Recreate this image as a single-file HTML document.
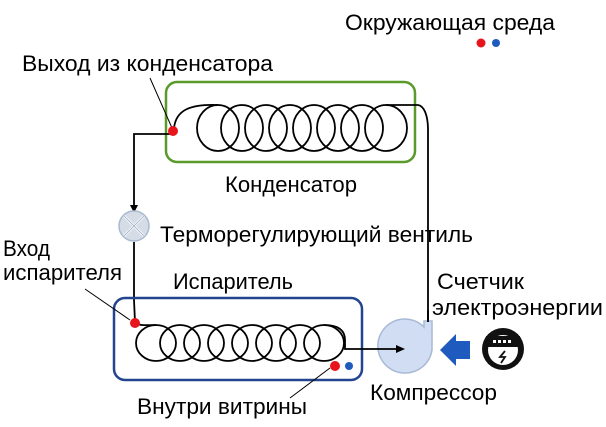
<!DOCTYPE html>
<html><head><meta charset="utf-8"><style>
html,body{margin:0;padding:0;background:#fff;}
svg{display:block;}
text{font-family:"Liberation Sans",sans-serif;fill:#000;}
</style></head><body>
<svg width="606" height="427" viewBox="0 0 606 427" xmlns="http://www.w3.org/2000/svg">
<g font-size="22.5">
<text x="345" y="30" textLength="210" lengthAdjust="spacingAndGlyphs">Окружающая среда</text>
<text x="22" y="71" textLength="251" lengthAdjust="spacingAndGlyphs">Выход из конденсатора</text>
<text x="225" y="192" textLength="132" lengthAdjust="spacingAndGlyphs">Конденсатор</text>
<text x="160" y="242" textLength="313" lengthAdjust="spacingAndGlyphs">Терморегулирующий вентиль</text>
<text x="3" y="256" textLength="47" lengthAdjust="spacingAndGlyphs">Вход</text>
<text x="3" y="280" textLength="119" lengthAdjust="spacingAndGlyphs">испарителя</text>
<text x="173" y="289" textLength="120" lengthAdjust="spacingAndGlyphs">Испаритель</text>
<text x="437" y="289" textLength="87" lengthAdjust="spacingAndGlyphs">Счетчик</text>
<text x="432" y="315" textLength="171" lengthAdjust="spacingAndGlyphs">электроэнергии</text>
<text x="370" y="400" textLength="127" lengthAdjust="spacingAndGlyphs">Компрессор</text>
<text x="137" y="414" textLength="170" lengthAdjust="spacingAndGlyphs">Внутри витрины</text>
</g>
<circle cx="481" cy="43" r="4.5" fill="#e8141b"/>
<circle cx="496" cy="43" r="4" fill="#1f5bbf"/>

<!-- condenser -->
<rect x="166" y="82" width="249" height="80" rx="11" fill="none" stroke="#5a9a2a" stroke-width="2.5"/>
<g fill="none" stroke="#000" stroke-width="1.8">
<ellipse cx="218" cy="128" rx="21" ry="23"/>
<ellipse cx="242" cy="128" rx="21" ry="23"/>
<ellipse cx="266" cy="128" rx="21" ry="23"/>
<ellipse cx="290" cy="128" rx="21" ry="23"/>
<ellipse cx="314" cy="128" rx="21" ry="23"/>
<ellipse cx="338" cy="128" rx="21" ry="23"/>
<ellipse cx="362" cy="128" rx="21" ry="23"/>
<ellipse cx="386" cy="128" rx="21" ry="23"/>
<path d="M174,128 C176,110 190,104 218,105"/>
<path d="M386,105 L418,105 C424,106 428,115 428,130 L428,322"/>
<path d="M170,134 L134,134 L134,208"/>
<path d="M134,242 L134,300 L135,322"/>
<path d="M150,78 L172,128" stroke-width="1"/>
</g>
<polygon points="130,205 138,205 134,213" fill="#000"/>
<circle cx="173" cy="131" r="5" fill="#e8141b"/>

<!-- valve -->
<circle cx="134" cy="226" r="15" fill="#d6dce6" stroke="#a9b9cf" stroke-width="1.5"/>
<path d="M124,216 L144,236 M144,216 L124,236" stroke="#fff" stroke-width="2.5"/>
<path d="M124,216 L144,236 M144,216 L124,236" stroke="#a9b9cf" stroke-width="1"/>

<!-- evaporator -->
<rect x="114" y="298" width="248" height="82" rx="11" fill="none" stroke="#23448f" stroke-width="2.5"/>
<g fill="none" stroke="#000" stroke-width="1.8">
<ellipse cx="156" cy="343" rx="20" ry="18"/>
<ellipse cx="180" cy="343" rx="20" ry="18"/>
<ellipse cx="204" cy="343" rx="20" ry="18"/>
<ellipse cx="228" cy="343" rx="20" ry="18"/>
<ellipse cx="252" cy="343" rx="20" ry="18"/>
<ellipse cx="276" cy="343" rx="20" ry="18"/>
<ellipse cx="300" cy="343" rx="20" ry="18"/>
<ellipse cx="324" cy="343" rx="20" ry="18"/>
<path d="M136,323 C140,326 146,325 156,325"/>
<path d="M85,289 L130,320" stroke-width="1"/>
<path d="M290,398 L330,368" stroke-width="1"/>
</g>
<circle cx="135" cy="323" r="5" fill="#e8141b"/>
<circle cx="335" cy="366" r="5" fill="#e8141b"/>
<circle cx="349" cy="366" r="4" fill="#1f5bbf"/>

<!-- compressor -->
<path d="M405,373 A27,27 0 1 1 424,327 L424,321 L432,321 L432,350 A27,27 0 0 1 405,373 Z" fill="#d0ddf2" stroke="#a9b9d6" stroke-width="1.5"/>
<path d="M324,325 C338,325 345,330 345,340 L345,349 L398,349" fill="none" stroke="#000" stroke-width="1.8"/>
<polygon points="396,345 405,349 396,353" fill="#000"/>
<line x1="428" y1="310" x2="428" y2="322" stroke="#000" stroke-width="1.8"/>

<!-- arrow -->
<polygon points="440,350 456,334 456,341 470,341 470,359 456,359 456,366" fill="#1f5bbf"/>

<!-- meter -->
<circle cx="503" cy="349" r="21" fill="#111"/>
<circle cx="503" cy="350" r="15" fill="#fff"/>
<rect x="486" y="336" width="34" height="11" fill="#111"/>
<g fill="#fff"><rect x="493" y="340" width="3" height="3"/><rect x="498" y="340" width="3" height="3"/><rect x="503" y="340" width="3" height="3"/><rect x="508" y="340" width="3" height="3"/></g>
<path d="M505,351 L500,357 L505,357 L501,363" stroke="#111" stroke-width="1.8" fill="none"/>
</svg>
</body></html>
